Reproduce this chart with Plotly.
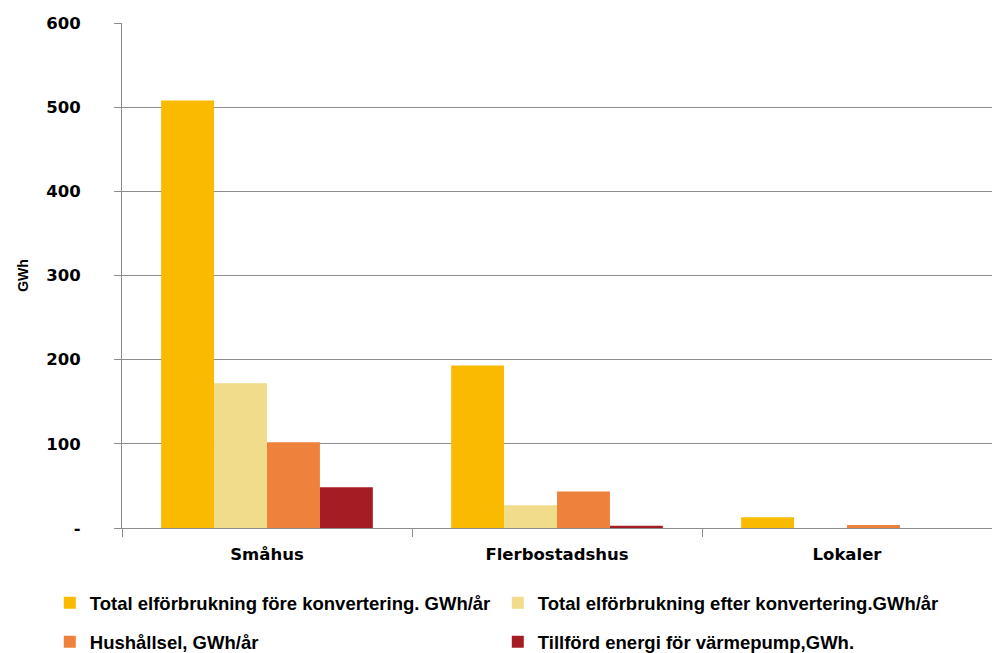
import plotly.graph_objects as go

categories = ["Småhus", "Flerbostadshus", "Lokaler"]
series_names = [
    "Total elförbrukning före konvertering. GWh/år",
    "Total elförbrukning efter konvertering.GWh/år",
    "Hushållsel, GWh/år",
    "Tillförd energi för värmepump,GWh.",
]
fore = [508, 193, 12.7]
efter = [172, 27, 0]
hushall = [102, 43.5, 3.5]
varmepump = [48.5, 2.8, 0]
colors = ["#F9BA00", "#F0DC8A", "#EE823D", "#A51C24"]
ytick_vals = [0, 100, 200, 300, 400, 500, 600]
ytick_text = ["-", "100", "200", "300", "400", "500", "600"]

values = [fore, efter, hushall, varmepump]
legends = ["legend", "legend", "legend2", "legend2"]

fig = go.Figure()
for name, vals, col, lg in zip(series_names, values, colors, legends):
    fig.add_trace(go.Bar(x=categories, y=vals, name=name, marker_color=col,
                         marker_line_width=0, legend=lg))

legend_font = dict(family="Liberation Sans, Arial, sans-serif",
                   size=18.5, color="#000000", weight="bold")
tick_font = dict(family="DejaVu Sans, sans-serif", size=16.5, weight="bold", color="#000000")
fig.update_layout(
    width=992, height=653,
    margin=dict(l=122, r=0, t=23, b=125, autoexpand=False),
    paper_bgcolor="white", plot_bgcolor="white",
    barmode="group", bargap=0.27, bargroupgap=0,
    font=dict(family="Liberation Sans, Arial, sans-serif", color="#000000"),
    legend=dict(orientation="h", x=-0.083, xanchor="left", y=-0.149, yanchor="middle",
                entrywidth=403, entrywidthmode="pixels", font=legend_font,
                itemwidth=30, bgcolor="rgba(0,0,0,0)"),
    legend2=dict(orientation="h", x=-0.083, xanchor="left", y=-0.226, yanchor="middle",
                 entrywidth=403, entrywidthmode="pixels", font=legend_font,
                 itemwidth=30, bgcolor="rgba(0,0,0,0)"),
)
fig.update_yaxes(
    range=[0, 600], tickvals=ytick_vals, ticktext=ytick_text,
    showgrid=True, gridcolor="#8C8C8C", gridwidth=1,
    showline=True, linecolor="#8C8C8C", linewidth=1,
    ticks="outside", ticklen=7, tickcolor="#8C8C8C",
    tickfont=tick_font, ticklabelstandoff=30,
    title=dict(text="GWh", font=dict(family="Liberation Sans, Arial, sans-serif",
                                     size=14, weight="bold", color="#000000"), standoff=14),
    zeroline=False,
)
fig.update_xaxes(
    showline=True, linecolor="#8C8C8C", linewidth=1,
    ticks="outside", tickson="boundaries", ticklen=8, tickcolor="#8C8C8C",
    tickfont=tick_font, ticklabelstandoff=11,
)
fig.write_html("out.html", config={"displayModeBar": False},
               post_script="document.body.style.margin='0';")
